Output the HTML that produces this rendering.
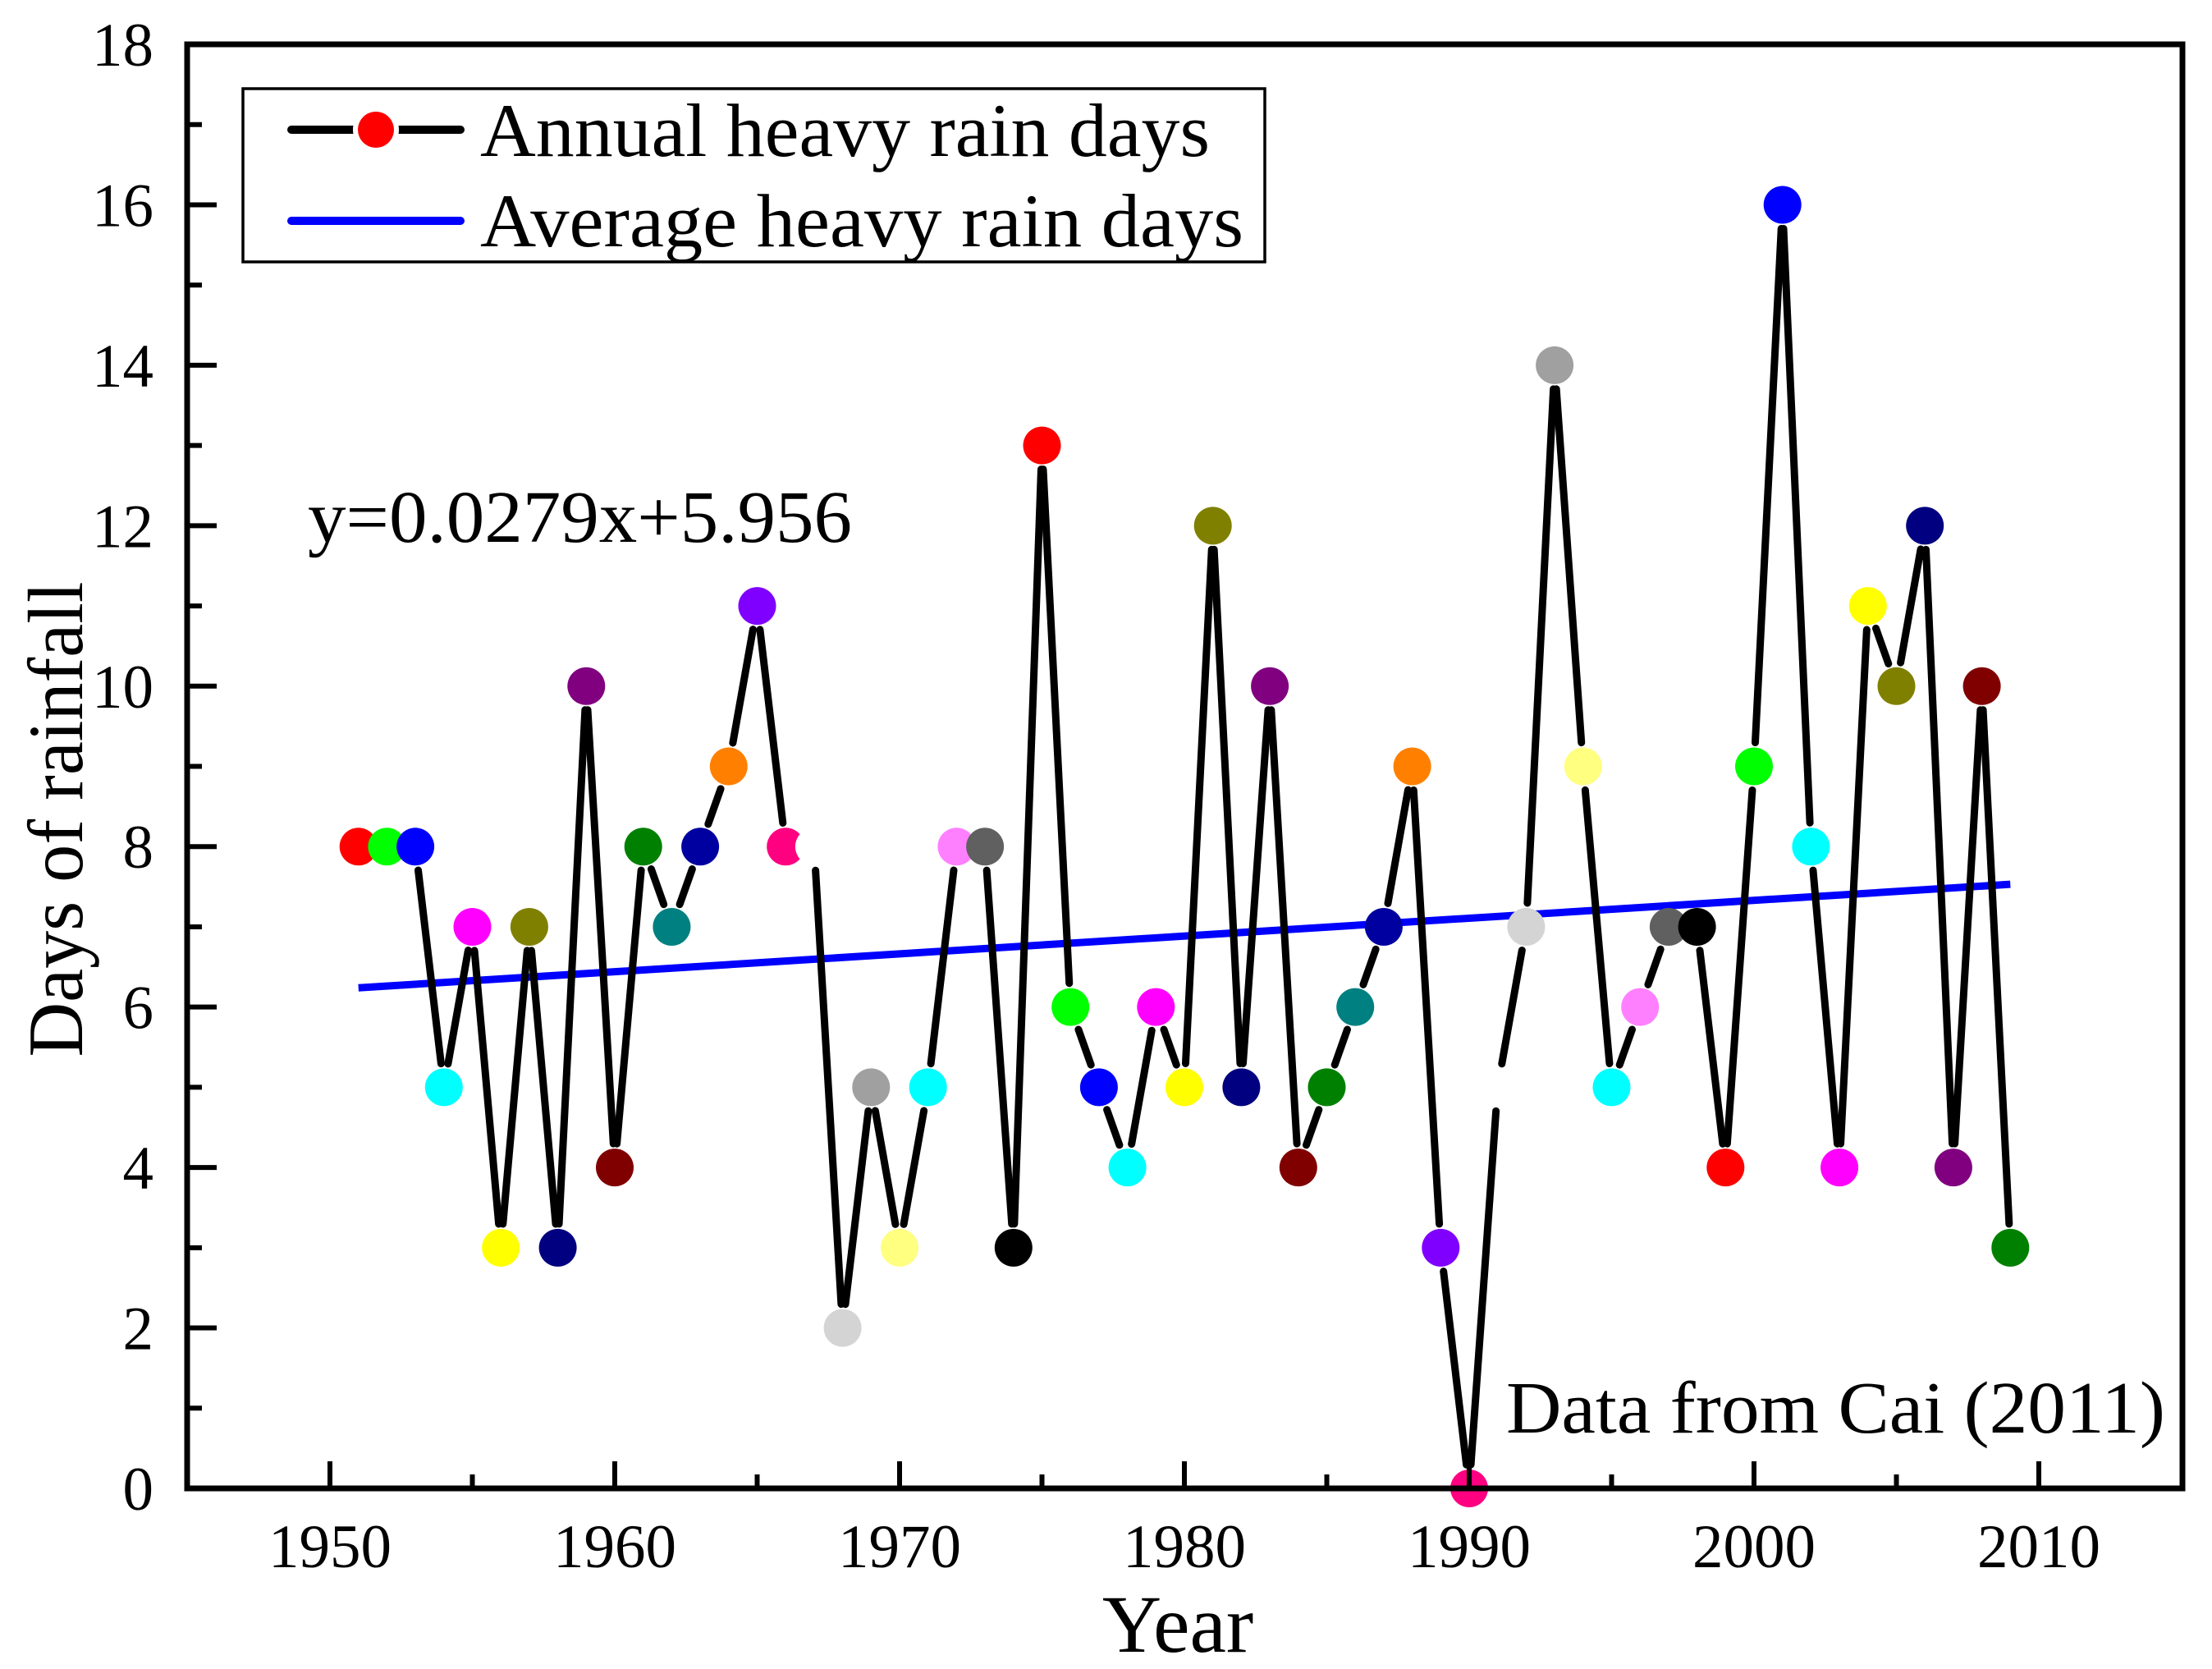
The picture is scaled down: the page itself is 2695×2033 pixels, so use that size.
<!DOCTYPE html>
<html><head><meta charset="utf-8"><style>
html,body{margin:0;padding:0;background:#fff;}
svg{display:block;font-family:"Liberation Serif",serif;}
</style></head><body>
<svg id="chart" width="2695" height="2033" viewBox="0 0 2695 2033" xmlns="http://www.w3.org/2000/svg">
<rect width="2695" height="2033" fill="#fff"/>
<g id="plot"></g>
<rect x="228" y="54" width="2431" height="1759" fill="none" stroke="#000" stroke-width="7"/>
<g id="axes"></g>
<g>
<rect x="296" y="108" width="1245" height="211" fill="#fff" stroke="#000" stroke-width="3.5"/>
<line x1="355" y1="158" x2="561" y2="158" stroke="#000" stroke-width="10" stroke-linecap="round"/>
<circle cx="458" cy="158" r="28" fill="#fff"/>
<circle cx="458" cy="158" r="22" fill="#ff0000"/>
<text x="585" y="190" font-size="92" textLength="889" lengthAdjust="spacingAndGlyphs">Annual heavy rain days</text>
<line x1="355" y1="269" x2="561" y2="269" stroke="#0000ff" stroke-width="10" stroke-linecap="round"/>
<text x="585" y="300" font-size="92" textLength="930" lengthAdjust="spacingAndGlyphs">Average heavy rain days</text>
</g>
<text x="375" y="660" font-size="90" textLength="663" lengthAdjust="spacingAndGlyphs">y=0.0279x+5.956</text>
<text x="1835" y="1745" font-size="90" textLength="803" lengthAdjust="spacingAndGlyphs">Data from Cai (2011)</text>
<text x="1435" y="2012" font-size="100" text-anchor="middle">Year</text>
<text transform="translate(100,998) rotate(-90)" font-size="95" text-anchor="middle" textLength="579" lengthAdjust="spacingAndGlyphs">Days of rainfall</text>
</svg>
<script>
const years = [1951,1952,1953,1954,1955,1956,1957,1958,1959,1960,1961,1962,1963,1964,1965,1966,1967,1968,1969,1970,1971,1972,1973,1974,1975,1976,1977,1978,1979,1980,1981,1982,1983,1984,1985,1986,1987,1988,1989,1990,1991,1992,1993,1994,1995,1996,1997,1998,1999,2000,2001,2002,2003,2004,2005,2006,2007,2008,2009];
const rainDays = [8,8,8,5,7,3,7,3,10,4,8,7,8,9,11,8,8,2,5,3,5,8,8,3,13,6,5,4,6,5,12,5,10,4,5,6,7,9,3,0,5,7,14,9,5,6,7,7,4,9,16,8,4,11,10,12,4,10,3];
const colorCycle = ["#ff0000","#00ff00","#0000ff","#00ffff","#ff00ff","#ffff00","#808000","#000080","#800080","#800000","#008000","#008080","#0000a0","#ff8000","#8000ff","#ff0080","#ffffff","#d4d4d4","#a0a0a0","#ffff80","#00ffff","#ff80ff","#606060","#000000"];
const trendStart = [1951, 6.24];
const trendEnd = [2009, 7.53];
const xTicks = [1950,1960,1970,1980,1990,2000,2010];
const yTicks = [0,2,4,6,8,10,12,14,16,18];

const NS = "http://www.w3.org/2000/svg";
const X = yr => 402 + 34.7 * (yr - 1950);
const Y = v => 1813 - 97.72 * v;
function mk(tag, attrs, parent) {
  const e = document.createElementNS(NS, tag);
  for (const k in attrs) e.setAttribute(k, attrs[k]);
  parent.appendChild(e);
  return e;
}
const plot = document.getElementById("plot");
const axes = document.getElementById("axes");

const tl = mk("line", {x1: X(trendStart[0]), y1: Y(trendStart[1]), x2: X(trendEnd[0]), y2: Y(trendEnd[1]), stroke: "#0000ff", "stroke-width": 9}, plot);



const R = 23, GAP = 29;
for (let i = 0; i < years.length - 1; i++) {
  const x1 = X(years[i]), y1 = Y(rainDays[i]), x2 = X(years[i+1]), y2 = Y(rainDays[i+1]);
  const dx = x2 - x1, dy = y2 - y1, L = Math.hypot(dx, dy);
  if (L <= 2 * GAP) continue;
  const ux = dx / L, uy = dy / L;
  const s = mk("line", {x1: x1 + ux*GAP, y1: y1 + uy*GAP, x2: x2 - ux*GAP, y2: y2 - uy*GAP, stroke: "#000", "stroke-width": 9, "stroke-linecap": "round"}, plot);
  
  
}
for (let i = 0; i < years.length; i++) {
  const c = mk("circle", {cx: X(years[i]), cy: Y(rainDays[i]), r: R, fill: colorCycle[i % colorCycle.length]}, plot);
  
  
}

xTicks.forEach((t, i) => {
  const tk = mk("line", {x1: X(t), y1: 1813, x2: X(t), y2: 1780, stroke: "#000", "stroke-width": 6}, axes);
  
  
  const lb = mk("text", {x: X(t), y: 1909, "font-size": 75, "text-anchor": "middle"}, axes);
  lb.textContent = t;
  
  
  if (i < xTicks.length - 1) {
    const m = mk("line", {x1: X(t + 5), y1: 1813, x2: X(t + 5), y2: 1796, stroke: "#000", "stroke-width": 6}, axes);
    
    
  }
});
yTicks.forEach((t, i) => {
  const tk = mk("line", {x1: 228, y1: Y(t), x2: 264, y2: Y(t), stroke: "#000", "stroke-width": 6}, axes);
  
  
  const lb = mk("text", {x: 187, y: Y(t) + 26, "font-size": 75, "text-anchor": "end"}, axes);
  lb.textContent = t;
  
  
  if (i < yTicks.length - 1) {
    const m = mk("line", {x1: 228, y1: Y(t + 1), x2: 246, y2: Y(t + 1), stroke: "#000", "stroke-width": 6}, axes);
    
    
  }
});
</script>
</body></html>
